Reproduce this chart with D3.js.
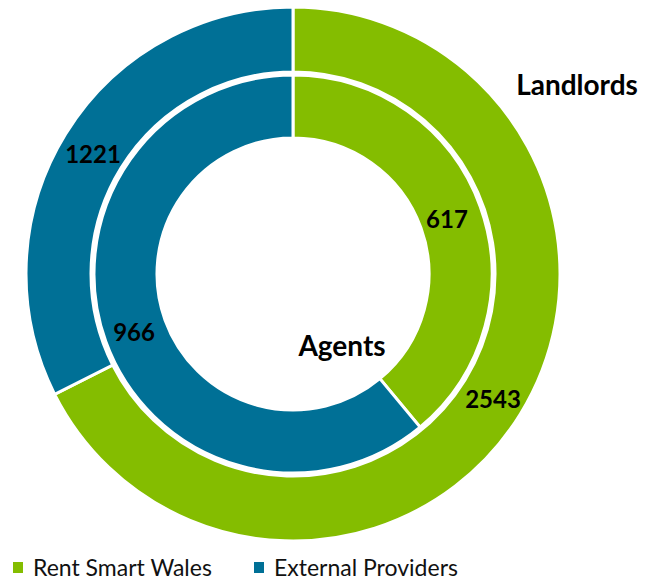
<!DOCTYPE html>
<html>
<head>
<meta charset="utf-8">
<script src="https://cdn.jsdelivr.net/npm/d3@7"></script>
<style>
  body { margin: 0; background: #fff; }
  text { font-family: Lato, "Open Sans", sans-serif; }
</style>
</head>
<body>
<div id="chart"></div>
<script>
const categories = ['Rent Smart Wales', 'External Providers'];
const landlords = [2543, 1221];
const agents = [617, 966];
const ringLabels = ['Landlords', 'Agents'];

const width = 662, height = 582;
const cx = 293, cy = 274;
const color = d3.scaleOrdinal().domain(categories).range(['#84bd00', '#007096']);

const svg = d3.select('#chart')
  .append('svg')
  .attr('width', width)
  .attr('height', height);

const pie = d3.pie().sort(null).value(d => d);
const g = svg.append('g').attr('transform', `translate(${cx},${cy})`);

const rings = [
  { values: landlords, inner: 202, outer: 267, labelPos: [[200, 124], [-200, -121]] },
  { values: agents, inner: 136, outer: 199, labelPos: [[154, -56], [-159, 57]] }
];

rings.forEach(ring => {
  const arc = d3.arc().innerRadius(ring.inner).outerRadius(ring.outer);
  const arcs = pie(ring.values);
  g.selectAll(null)
    .data(arcs)
    .enter()
    .append('path')
      .attr('d', arc)
      .attr('fill', (d, i) => color(categories[i]))
      .attr('stroke', '#fff')
      .attr('stroke-width', 3);

  // value labels
  g.selectAll(null)
    .data(arcs)
    .enter()
    .append('text')
      .attr('x', (d, i) => ring.labelPos[i][0])
      .attr('y', (d, i) => ring.labelPos[i][1])
      .attr('text-anchor', 'middle')
      .attr('dominant-baseline', 'central')
      .style('font-size', '24px')
      .style('font-weight', 'bold')
      .text(d => d.data);
});

// ring titles
g.append('text')
  .attr('x', 284).attr('y', -190)
  .attr('text-anchor', 'middle')
  .attr('dominant-baseline', 'central')
  .style('font-size', '28px').style('font-weight', 'bold')
  .text(ringLabels[0]);

g.append('text')
  .attr('x', 49).attr('y', 71)
  .attr('text-anchor', 'middle')
  .attr('dominant-baseline', 'central')
  .style('font-size', '28px').style('font-weight', 'bold')
  .text(ringLabels[1]);

// legend
const legend = svg.append('g').attr('transform', 'translate(13,567)');
const legendX = [0, 241];
categories.forEach((c, i) => {
  const item = legend.append('g').attr('transform', `translate(${legendX[i]},0)`);
  item.append('rect')
    .attr('x', 0).attr('y', -5)
    .attr('width', 10).attr('height', 11)
    .attr('fill', color(c));
  item.append('text')
    .attr('x', 20).attr('y', 0)
    .attr('dominant-baseline', 'central')
    .style('font-size', '23px')
    .style('fill', '#111')
    .text(c);
});
</script>
</body>
</html>
